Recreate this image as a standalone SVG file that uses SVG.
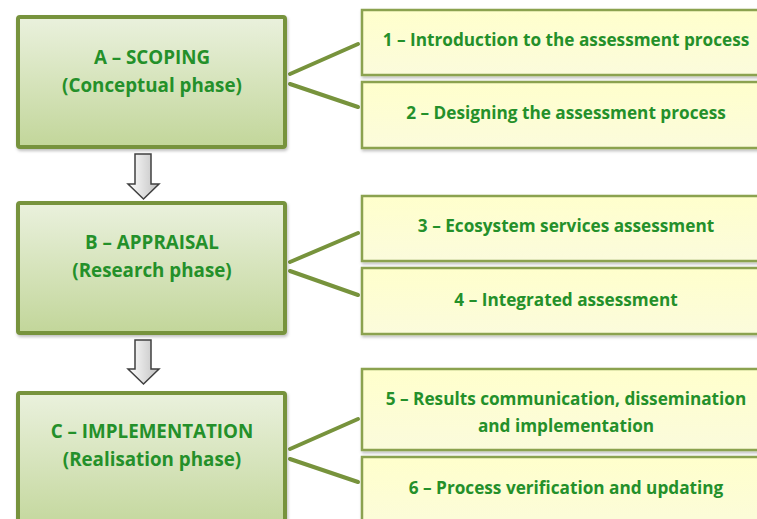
<svg xmlns="http://www.w3.org/2000/svg" width="757" height="519" viewBox="0 0 757 519">
<defs>
<linearGradient id="gPhase" x1="0" y1="0" x2="0" y2="1">
<stop offset="0" stop-color="#EAF1DD"/>
<stop offset="1" stop-color="#C2D69A"/>
</linearGradient>
<linearGradient id="gStep" x1="0" y1="0" x2="0" y2="1">
<stop offset="0" stop-color="#FFFFCC"/>
<stop offset="1" stop-color="#FBFBDC"/>
</linearGradient>
<linearGradient id="gArrow" x1="0" y1="0" x2="1" y2="0">
<stop offset="0" stop-color="#FFFFFF"/>
<stop offset="1" stop-color="#BFBFBF"/>
</linearGradient>
<filter id="sh" x="-5%" y="-5%" width="110%" height="115%">
<feDropShadow dx="1" dy="2" stdDeviation="1.5" flood-color="#000" flood-opacity="0.25"/>
</filter>
</defs>
<style>
.phase{fill:url(#gPhase);stroke:#77933C;stroke-width:4;filter:url(#sh)}
.step{fill:url(#gStep);stroke:#8BA24F;stroke-width:2.5;filter:url(#sh)}
.conn{stroke:#77933C;stroke-width:4;fill:none;stroke-linecap:round}
.arrow{fill:url(#gArrow);stroke:#404040;stroke-width:1.5;stroke-linejoin:miter}
text{font-family:"Open Sans","Liberation Sans",Arial,sans-serif;font-weight:bold;fill:#24902A;text-anchor:middle}
.pt{font-size:18.8px}
.st{font-size:17.2px}
</style>
<rect width="757" height="519" fill="#FFFFFF"/>
<g id="connectors">
<line class="conn" x1="290" y1="74" x2="358" y2="44"/>
<line class="conn" x1="290" y1="84" x2="358" y2="107"/>
<line class="conn" x1="290" y1="262" x2="358" y2="233"/>
<line class="conn" x1="290" y1="271" x2="358" y2="295"/>
<line class="conn" x1="290" y1="449" x2="358" y2="419"/>
<line class="conn" x1="290" y1="459" x2="358" y2="482"/>
<path class="arrow" d="M135,154 H151 V184 H159 L143.5,199 L128,184 H135 Z"/>
<path class="arrow" d="M135,340 H151 V369 H159 L143.5,384 L128,369 H135 Z"/>
</g>
<g id="phaseA">
<rect class="phase" x="18" y="17" width="267" height="130" rx="2"/>
<text class="pt" x="152" y="64">A – SCOPING</text>
<text class="pt" x="152" y="92">(Conceptual phase)</text>
</g>
<g id="phaseB">
<rect class="phase" x="18" y="203" width="267" height="130" rx="2"/>
<text class="pt" x="152" y="249">B – APPRAISAL</text>
<text class="pt" x="152" y="277">(Research phase)</text>
</g>
<g id="phaseC">
<rect class="phase" x="18" y="393" width="267" height="140" rx="2"/>
<text class="pt" x="152" y="438">C – IMPLEMENTATION</text>
<text class="pt" x="152" y="466">(Realisation phase)</text>
</g>
<g id="step1">
<rect class="step" x="362" y="10" width="410" height="65"/>
<text class="st" x="566" y="46">1 – Introduction to the assessment process</text>
</g>
<g id="step2">
<rect class="step" x="362" y="82" width="410" height="66"/>
<text class="st" x="566" y="119">2 – Designing the assessment process</text>
</g>
<g id="step3">
<rect class="step" x="362" y="196" width="410" height="65"/>
<text class="st" x="566" y="232">3 – Ecosystem services assessment</text>
</g>
<g id="step4">
<rect class="step" x="362" y="268" width="410" height="66"/>
<text class="st" x="566" y="306">4 – Integrated assessment</text>
</g>
<g id="step5">
<rect class="step" x="362" y="369" width="410" height="81"/>
<text class="st" x="566" y="405">5 – Results communication, dissemination</text>
<text class="st" x="566" y="432">and implementation</text>
</g>
<g id="step6">
<rect class="step" x="362" y="457" width="410" height="80"/>
<text class="st" x="566" y="494">6 – Process verification and updating</text>
</g>
</svg>
